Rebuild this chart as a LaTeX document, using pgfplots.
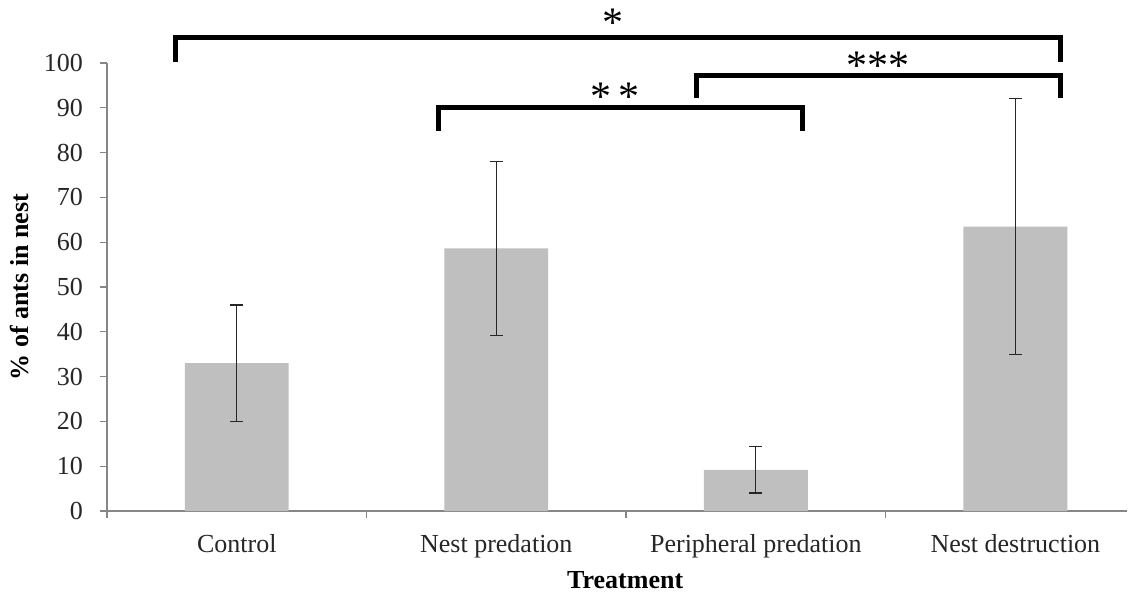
\documentclass[border=0pt]{standalone}
\usepackage{pgfplots}
\pgfplotsset{compat=1.18}
\usepackage{fontspec}
\setmainfont{Liberation Serif}

\definecolor{barfill}{RGB}{191,191,191}
\definecolor{axisgray}{RGB}{134,134,134}

\begin{document}
\begin{tikzpicture}
\begin{axis}[
    name=ax,
    scale only axis,
    width=510pt,
    height=224pt,
    xmin=-0.5, xmax=3.43,
    ymin=0, ymax=100,
    clip=false,
    axis x line=bottom,
    axis y line=left,
    axis line style={-, draw=axisgray, line width=0.6pt},
    tick align=outside,
    major tick length=3.5pt,
    tick style={draw=axisgray, line width=0.6pt},
    ytick={0,10,...,100},
    xtick={-0.5,0.5,1.5,2.5},
    xticklabels={},
    extra x ticks={0,1,2,3},
    extra x tick labels={Control, Nest predation, Peripheral predation, Nest destruction},
    extra x tick style={major tick length=0pt, tick style={draw=none}},
    /pgf/number format/assume math mode=true,
    ticklabel style={font=\fontsize{13}{15}\selectfont, text=black!85},
    xticklabel style={yshift=-8pt},
    yticklabel style={xshift=-5pt},
    ylabel={\% of ants in nest},
    xlabel={Treatment},
    label style={font=\fontsize{13}{15}\selectfont\bfseries},
    ylabel style={at={(axis description cs:-0.0853,0.5)}, anchor=center, rotate=0},
    xlabel style={at={(axis description cs:0.508,-0.154)}, anchor=center},
    ybar, bar width=0.4,
]
\addplot[fill=barfill, draw=none,
    error bars/.cd, y dir=both, y explicit,
    error bar style={line width=0.6pt, black!85},
    error mark options={rotate=90, line width=0.6pt, black!85, mark size=3.2pt}]
  coordinates {
    (0,33.0) +- (0,13.0)
    (1,58.6) +- (0,19.5)
    (2,9.2)  +- (0,5.2)
    (3,63.5) +- (0,28.5)
  };
% significance brackets
\addplot[sharp plot, black, line width=2.5pt, line join=miter]
  coordinates {(-0.238,100.2) (-0.238,105.6) (3.175,105.6) (3.175,100.2)};
\addplot[sharp plot, black, line width=2.5pt, line join=miter]
  coordinates {(0.776,84.8) (0.776,90.0) (2.180,90.0) (2.180,84.8)};
\addplot[sharp plot, black, line width=2.5pt, line join=miter]
  coordinates {(1.771,92.2) (1.771,97.3) (3.175,97.3) (3.175,92.2)};
\node[font=\fontsize{21}{21}\selectfont] at (axis cs:1.451,109.0) {*};
\node[font=\fontsize{21}{21}\selectfont] at (axis cs:1.459,92.5) {*\,*};
\node[font=\fontsize{21}{21}\selectfont] at (axis cs:2.470,99.3) {***};
\end{axis}
\pgfresetboundingbox
\path[use as bounding box] ([shift={(-53.5pt,-41.5pt)}]ax.south west) rectangle ++(566.5pt,297pt);
\end{tikzpicture}
\end{document}
